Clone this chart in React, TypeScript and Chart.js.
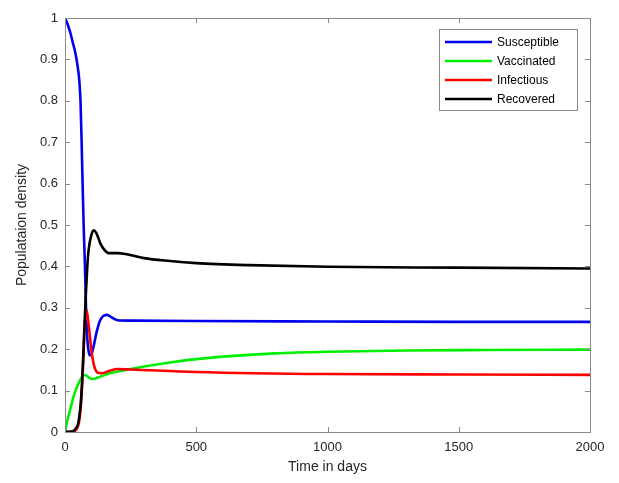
import React, { useEffect, useRef } from "react";
import { Chart, registerables } from "chart.js";

Chart.register(...registerables);

const seriesNames = ["Susceptible", "Vaccinated", "Infectious", "Recovered"];
const seriesColors = ["#0000ee", "#00ee00", "#ff0000", "#000000"];

const susT = [0, 10, 20, 30, 38, 44, 50, 55, 59, 63, 67, 71, 76, 80, 85, 90, 95, 102, 110, 120, 132, 145, 160, 180, 200, 250, 500, 1000, 1500, 2000];
const susY = [1.0, 0.985, 0.965, 0.94, 0.92, 0.9, 0.875, 0.845, 0.8, 0.71, 0.6, 0.5, 0.4, 0.3, 0.225, 0.195, 0.185, 0.19, 0.21, 0.24, 0.267, 0.28, 0.283, 0.276, 0.27, 0.269, 0.268, 0.267, 0.266, 0.266];

const vacT = [0, 10, 20, 30, 40, 50, 60, 70, 80, 90, 105, 120, 140, 170, 200, 250, 300, 400, 500, 600, 800, 1000, 1300, 1600, 2000];
const vacY = [0, 0.03, 0.055, 0.08, 0.1, 0.115, 0.128, 0.137, 0.137, 0.132, 0.128, 0.13, 0.135, 0.142, 0.146, 0.152, 0.158, 0.168, 0.176, 0.182, 0.19, 0.194, 0.197, 0.198, 0.199];

const infT = [0, 30, 40, 50, 55, 60, 65, 70, 75, 82, 90, 100, 110, 125, 140, 170, 200, 250, 500, 1000, 1500, 2000];
const infY = [0, 0.001, 0.004, 0.015, 0.03, 0.06, 0.11, 0.18, 0.255, 0.295, 0.26, 0.2, 0.162, 0.143, 0.142, 0.148, 0.152, 0.151, 0.145, 0.14, 0.139, 0.138];

const recT = [0, 30, 40, 50, 55, 60, 65, 70, 75, 80, 85, 90, 100, 110, 120, 135, 150, 165, 200, 230, 300, 400, 500, 700, 1000, 1500, 2000];
const recY = [0, 0.002, 0.008, 0.02, 0.04, 0.07, 0.12, 0.19, 0.27, 0.34, 0.4, 0.44, 0.475, 0.487, 0.48, 0.455, 0.44, 0.432, 0.432, 0.43, 0.42, 0.413, 0.408, 0.403, 0.399, 0.397, 0.395];

const xTicks = [0, 500, 1000, 1500, 2000];
const yTicks = [0, 0.1, 0.2, 0.3, 0.4, 0.5, 0.6, 0.7, 0.8, 0.9, 1];
const xTitle = "Time in days";
const yTitle = "Populataion density";

const FONT = "'Liberation Sans', Arial, Helvetica, sans-serif";
const TEXT = "#262626";

function pts(t: number[], y: number[]) {
  return t.map((x, i) => ({ x, y: y[i] }));
}

const framePlugin = {
  id: "matlabFrame",
  afterDraw(chart: any) {
    const { ctx, chartArea: a, scales } = chart;
    const xs = scales.x, ys = scales.y;
    ctx.save();
    ctx.strokeStyle = "#8a8a8a";
    ctx.lineWidth = 1;
    ctx.strokeRect(Math.round(a.left) + 0.5, Math.round(a.top) + 0.5, Math.round(a.right - a.left), Math.round(a.bottom - a.top));
    const tl = 5;
    ctx.beginPath();
    xTicks.forEach((v) => {
      const px = Math.round(xs.getPixelForValue(v)) + 0.5;
      ctx.moveTo(px, a.bottom); ctx.lineTo(px, a.bottom - tl);
      ctx.moveTo(px, a.top); ctx.lineTo(px, a.top + tl);
    });
    yTicks.forEach((v) => {
      const py = Math.round(ys.getPixelForValue(v)) + 0.5;
      ctx.moveTo(a.left, py); ctx.lineTo(a.left + tl, py);
      ctx.moveTo(a.right, py); ctx.lineTo(a.right - tl, py);
    });
    ctx.stroke();

    // axis titles
    ctx.fillStyle = TEXT;
    ctx.font = `14px ${FONT}`;
    ctx.textAlign = "center";
    ctx.textBaseline = "middle";
    ctx.fillText(xTitle, (a.left + a.right) / 2, 467);
    ctx.save();
    ctx.translate(22, (a.top + a.bottom) / 2);
    ctx.rotate(-Math.PI / 2);
    ctx.fillText(yTitle, 0, 0);
    ctx.restore();

    // legend
    const lx = 439.5, ly = 29.5, lw = 138, lh = 81;
    ctx.fillStyle = "#ffffff";
    ctx.fillRect(lx, ly, lw, lh);
    ctx.strokeStyle = "#8a8a8a";
    ctx.strokeRect(lx, ly, lw, lh);
    ctx.font = `12px ${FONT}`;
    ctx.textAlign = "left";
    const rows = [42, 61, 80, 99];
    seriesNames.forEach((n, i) => {
      ctx.strokeStyle = seriesColors[i];
      ctx.lineWidth = 2.5;
      ctx.beginPath();
      ctx.moveTo(445, rows[i]);
      ctx.lineTo(492, rows[i]);
      ctx.stroke();
      ctx.fillStyle = "#000000";
      ctx.fillText(n, 497, rows[i] + 0.5);
    });
    ctx.restore();
  },
};

export default function App() {
  const ref = useRef<HTMLCanvasElement | null>(null);
  useEffect(() => {
    if (!ref.current) return;
    const allT = [susT, vacT, infT, recT];
    const allY = [susY, vacY, infY, recY];
    const chart = new Chart(ref.current, {
      type: "line",
      data: {
        datasets: seriesNames.map((name, i) => ({
          label: name,
          data: pts(allT[i], allY[i]),
          borderColor: seriesColors[i],
          backgroundColor: seriesColors[i],
          borderWidth: 2.6,
          pointRadius: 0,
          cubicInterpolationMode: "monotone" as const,
          fill: false,
          order: 3 - i,
        })),
      },
      options: {
        responsive: false,
        animation: false,
        events: [],
        layout: { padding: { top: 18, right: 29, left: 0, bottom: 0 } },
        plugins: { legend: { display: false }, tooltip: { enabled: false } },
        scales: {
          x: {
            type: "linear",
            min: 0,
            max: 2000,
            afterFit: (s: any) => { s.height = 51; },
            afterBuildTicks: (s: any) => { s.ticks = xTicks.map((v) => ({ value: v })); },
            grid: { display: false, drawTicks: false },
            border: { display: false },
            ticks: { color: TEXT, font: { size: 13, family: FONT }, padding: 8, maxRotation: 0, callback: (v: any) => String(v) },
          },
          y: {
            type: "linear",
            min: 0,
            max: 1,
            afterFit: (s: any) => { s.width = 65; },
            afterBuildTicks: (s: any) => { s.ticks = yTicks.map((v) => ({ value: v })); },
            grid: { display: false, drawTicks: false },
            border: { display: false },
            ticks: { color: TEXT, font: { size: 13, family: FONT }, padding: 7, callback: (v: any) => String(Math.round(Number(v) * 10) / 10) },
          },
        },
      },
      plugins: [framePlugin],
    });
    return () => chart.destroy();
  }, []);
  return (
    <div style={{ position: "fixed", left: 0, top: 0, width: 619, height: 483, background: "#fff" }}>
      <canvas ref={ref} width={619} height={483} style={{ width: 619, height: 483, display: "block" }} />
    </div>
  );
}
